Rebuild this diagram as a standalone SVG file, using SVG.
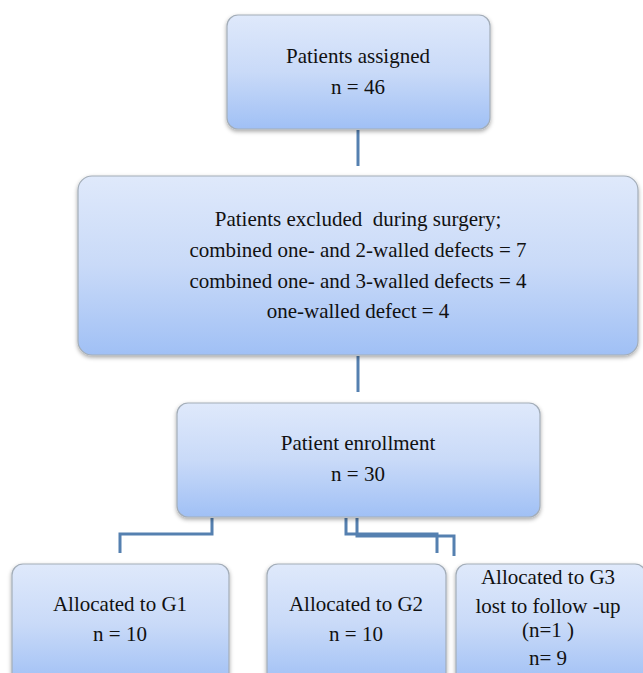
<svg xmlns="http://www.w3.org/2000/svg" width="643" height="673" viewBox="0 0 643 673">
<defs>
<linearGradient id="g" x1="0" y1="0" x2="0" y2="1">
<stop offset="0" stop-color="#dfe9fb"/>
<stop offset="0.5" stop-color="#c9daf8"/>
<stop offset="1" stop-color="#a0c0f5"/>
</linearGradient>
<filter id="sh" x="-5%" y="-5%" width="110%" height="115%">
<feDropShadow dx="0" dy="2" stdDeviation="2" flood-color="#000" flood-opacity="0.35"/>
</filter>
</defs>
<style>
.box{fill:url(#g);stroke:#a3adb8;stroke-width:1.2;filter:url(#sh)}
.t{font-size:21px;fill:#111;text-anchor:middle;white-space:pre}
.c{fill:none;stroke:#5580b0;stroke-width:3}
</style>
<g id="connectors">
<path class="c" d="M358 130V166"/>
<path class="c" d="M358 356V392"/>
<path class="c" d="M212 518V534H120V553"/>
<path class="c" d="M346 518V534H437V553"/>
<path class="c" d="M357 518V536H454V556"/>
</g>
<g font-family="'Liberation Serif', 'Times New Roman', 'DejaVu Serif', serif">
<g id="assigned">
<rect class="box" x="227" y="15" width="263" height="114" rx="11"/>
<text class="t" x="358" y="63">Patients assigned</text>
<text class="t" x="358" y="94">n = 46</text>
</g>
<g id="excluded">
<rect class="box" x="78" y="176" width="560" height="179" rx="14"/>
<text class="t" x="358" y="226" xml:space="preserve">Patients excluded  during surgery;</text>
<text class="t" x="358" y="257">combined one- and 2-walled defects = 7</text>
<text class="t" x="358" y="288">combined one- and 3-walled defects = 4</text>
<text class="t" x="358" y="318">one-walled defect = 4</text>
</g>
<g id="enrollment">
<rect class="box" x="177" y="403" width="363" height="114" rx="11"/>
<text class="t" x="358" y="450">Patient enrollment</text>
<text class="t" x="358" y="481">n = 30</text>
</g>
<g id="g1">
<rect class="box" x="12" y="564" width="217" height="120" rx="11"/>
<text class="t" x="120" y="611">Allocated to G1</text>
<text class="t" x="120" y="641">n = 10</text>
</g>
<g id="g2">
<rect class="box" x="267" y="564" width="179" height="120" rx="11"/>
<text class="t" x="356" y="611">Allocated to G2</text>
<text class="t" x="356" y="641">n = 10</text>
</g>
<g id="g3">
<rect class="box" x="456" y="564" width="190" height="120" rx="11"/>
<text class="t" x="548" y="584">Allocated to G3</text>
<text class="t" x="548" y="613">lost to follow -up</text>
<text class="t" x="548" y="637" xml:space="preserve">(n=1 )</text>
<text class="t" x="548" y="665">n= 9</text>
</g>
</g>
</svg>
